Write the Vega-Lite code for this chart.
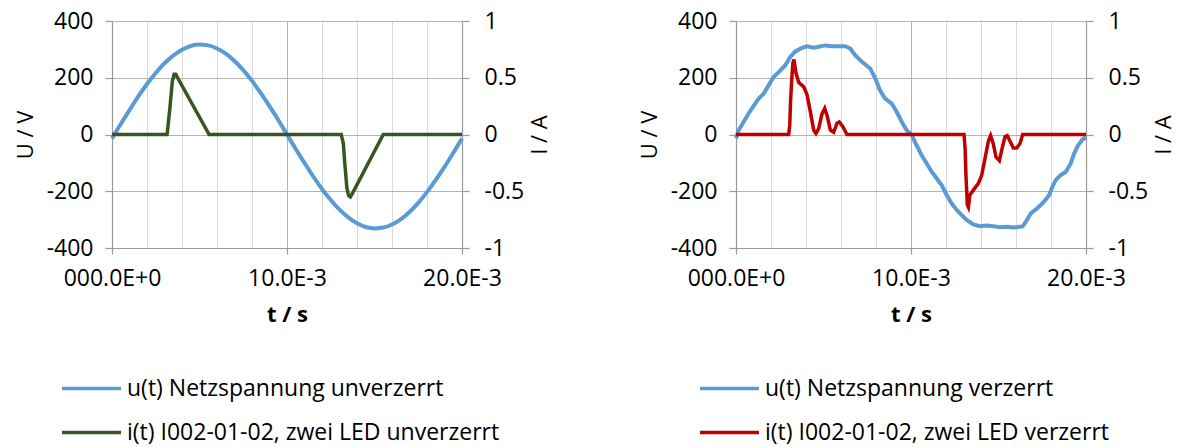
{
  "$schema": "https://vega.github.io/schema/vega-lite/v6.json",
  "padding": {"left": 14, "top": 10, "right": 0, "bottom": 0},
  "background": "white",
  "config": {
    "font": "Open Sans",
    "view": {"stroke": null},
    "axis": {
      "labelFont": "Open Sans", "titleFont": "Open Sans",
      "labelFontSize": 23, "titleFontSize": 22,
      "labelColor": "#000000", "titleColor": "#000000",
      "titleFontWeight": "normal",
      "domainColor": "#999999", "tickColor": "#999999",
      "gridColor": "#b4b4b4", "domainWidth": 1.2, "tickWidth": 1.2
    },
    "axisX": {"labelOverlap": false},
    "concat": {"spacing": 87}
  },
  "datasets": {
    "left_u": [
      {"t": 0, "v": -14}, {"t": 0.5, "v": 37}, {"t": 1, "v": 86}, {"t": 1.5, "v": 134}, {"t": 2, "v": 178},
      {"t": 2.5, "v": 217}, {"t": 3, "v": 251}, {"t": 3.5, "v": 278}, {"t": 4, "v": 299}, {"t": 4.5, "v": 312},
      {"t": 5, "v": 317}, {"t": 5.5, "v": 314}, {"t": 6, "v": 303}, {"t": 6.5, "v": 285}, {"t": 7, "v": 259},
      {"t": 7.5, "v": 227}, {"t": 8, "v": 189}, {"t": 8.5, "v": 146}, {"t": 9, "v": 100}, {"t": 9.5, "v": 51},
      {"t": 10, "v": 0}, {"t": 10.5, "v": -51}, {"t": 11, "v": -100}, {"t": 11.5, "v": -148}, {"t": 12, "v": -192},
      {"t": 12.5, "v": -231}, {"t": 13, "v": -265}, {"t": 13.5, "v": -292}, {"t": 14, "v": -313}, {"t": 14.5, "v": -326},
      {"t": 15, "v": -331}, {"t": 15.5, "v": -328}, {"t": 16, "v": -317}, {"t": 16.5, "v": -299}, {"t": 17, "v": -273},
      {"t": 17.5, "v": -241}, {"t": 18, "v": -203}, {"t": 18.5, "v": -160}, {"t": 19, "v": -114}, {"t": 19.5, "v": -65},
      {"t": 20, "v": -14}
    ],
    "left_i": [
      {"t": 0, "v": 0}, {"t": 3.15, "v": 0}, {"t": 3.3, "v": 0.22}, {"t": 3.45, "v": 0.47}, {"t": 3.55, "v": 0.53},
      {"t": 3.65, "v": 0.53}, {"t": 3.75, "v": 0.5}, {"t": 5.55, "v": 0}, {"t": 13.1, "v": 0}, {"t": 13.22, "v": -0.08},
      {"t": 13.3, "v": -0.25}, {"t": 13.42, "v": -0.47}, {"t": 13.52, "v": -0.54}, {"t": 13.62, "v": -0.55},
      {"t": 13.77, "v": -0.51}, {"t": 15.5, "v": 0}, {"t": 20, "v": 0}
    ],
    "right_u": [
      {"t": 0, "v": -14}, {"t": 0.15, "v": 15}, {"t": 0.44, "v": 45}, {"t": 0.72, "v": 74}, {"t": 1.01, "v": 101},
      {"t": 1.3, "v": 127}, {"t": 1.58, "v": 144}, {"t": 1.87, "v": 174}, {"t": 2.15, "v": 203}, {"t": 2.44, "v": 220},
      {"t": 2.82, "v": 244}, {"t": 3.1, "v": 273}, {"t": 3.39, "v": 293}, {"t": 3.77, "v": 305}, {"t": 4.06, "v": 311},
      {"t": 4.44, "v": 306}, {"t": 4.72, "v": 309}, {"t": 5.1, "v": 314}, {"t": 5.49, "v": 311}, {"t": 5.87, "v": 311},
      {"t": 6.25, "v": 311}, {"t": 6.53, "v": 303}, {"t": 6.82, "v": 279}, {"t": 7.2, "v": 256}, {"t": 7.68, "v": 232},
      {"t": 7.96, "v": 197}, {"t": 8.23, "v": 156}, {"t": 8.51, "v": 127}, {"t": 8.9, "v": 109}, {"t": 9.18, "v": 80},
      {"t": 9.47, "v": 45}, {"t": 9.75, "v": 15}, {"t": 10.04, "v": -2}, {"t": 10.32, "v": -38}, {"t": 10.61, "v": -73},
      {"t": 10.9, "v": -102}, {"t": 11.18, "v": -131}, {"t": 11.47, "v": -155}, {"t": 11.75, "v": -178}, {"t": 12.04, "v": -213},
      {"t": 12.32, "v": -243}, {"t": 12.61, "v": -266}, {"t": 12.9, "v": -284}, {"t": 13.18, "v": -301}, {"t": 13.56, "v": -317},
      {"t": 13.94, "v": -323}, {"t": 14.32, "v": -321}, {"t": 14.7, "v": -323}, {"t": 15.09, "v": -327}, {"t": 15.47, "v": -325},
      {"t": 15.85, "v": -328}, {"t": 16.23, "v": -325}, {"t": 16.37, "v": -324}, {"t": 16.56, "v": -308}, {"t": 16.84, "v": -278},
      {"t": 17.22, "v": -260}, {"t": 17.6, "v": -237}, {"t": 17.89, "v": -214}, {"t": 18.08, "v": -184}, {"t": 18.27, "v": -161},
      {"t": 18.55, "v": -143}, {"t": 18.84, "v": -132}, {"t": 19.13, "v": -102}, {"t": 19.32, "v": -67}, {"t": 19.55, "v": -38},
      {"t": 19.8, "v": -18}, {"t": 20, "v": -10}
    ],
    "right_i": [
      {"t": 0, "v": 0}, {"t": 3.01, "v": 0}, {"t": 3.07, "v": 0.08}, {"t": 3.12, "v": 0.3}, {"t": 3.18, "v": 0.47},
      {"t": 3.25, "v": 0.63}, {"t": 3.31, "v": 0.66}, {"t": 3.37, "v": 0.6}, {"t": 3.43, "v": 0.54}, {"t": 3.58, "v": 0.46},
      {"t": 3.87, "v": 0.42}, {"t": 4.06, "v": 0.35}, {"t": 4.25, "v": 0.2}, {"t": 4.44, "v": 0.04}, {"t": 4.57, "v": 0.01},
      {"t": 4.72, "v": 0.05}, {"t": 4.91, "v": 0.18}, {"t": 5.07, "v": 0.23}, {"t": 5.2, "v": 0.17}, {"t": 5.39, "v": 0.04},
      {"t": 5.58, "v": 0.02}, {"t": 5.77, "v": 0.1}, {"t": 5.9, "v": 0.11}, {"t": 6.1, "v": 0.07}, {"t": 6.34, "v": 0},
      {"t": 13.03, "v": 0}, {"t": 13.09, "v": -0.12}, {"t": 13.14, "v": -0.36}, {"t": 13.22, "v": -0.62}, {"t": 13.28, "v": -0.64},
      {"t": 13.37, "v": -0.53}, {"t": 13.56, "v": -0.49}, {"t": 13.85, "v": -0.43}, {"t": 14.04, "v": -0.36}, {"t": 14.23, "v": -0.21},
      {"t": 14.42, "v": -0.06}, {"t": 14.55, "v": -0.01}, {"t": 14.7, "v": -0.08}, {"t": 14.86, "v": -0.2}, {"t": 15.05, "v": -0.23},
      {"t": 15.18, "v": -0.14}, {"t": 15.37, "v": -0.02}, {"t": 15.5, "v": -0.01}, {"t": 15.66, "v": -0.06}, {"t": 15.85, "v": -0.12},
      {"t": 16.04, "v": -0.12}, {"t": 16.23, "v": -0.08}, {"t": 16.38, "v": 0}, {"t": 20, "v": 0}
    ]
  },
  "hconcat": [
    {
      "width": 350,
      "height": 227,
      "encoding": {
        "x": {
          "field": "t", "type": "quantitative", "title": "t / s",
          "scale": {"domain": [0, 20], "nice": false},
          "axis": {
            "values": [0, 2, 4, 6, 8, 10, 12, 14, 16, 18, 20],
            "labelExpr": "datum.value == 0 ? '000.0E+0' : datum.value == 10 ? '10.0E-3' : datum.value == 20 ? '20.0E-3' : ''",
            "labelFlush": false, "labelOverlap": false, "labelBound": false,
            "grid": true,
            "gridColor": {"condition": {"test": "datum.value == 10 || datum.value == 20", "value": "#b4b4b4"}, "value": "#d9d9d9"},
            "tickOpacity": {"condition": {"test": "datum.value == 0 || datum.value == 10 || datum.value == 20", "value": 1}, "value": 0},
            "tickSize": 6, "labelPadding": 13,
            "titleFontWeight": "bold", "titlePadding": 14
          }
        }
      },
      "layer": [
        {
          "data": {"name": "left_u"},
          "mark": {"type": "line", "strokeWidth": 4, "interpolate": "monotone"},
          "encoding": {
            "y": {
              "field": "v", "type": "quantitative", "title": "U / V",
              "scale": {"domain": [-400, 400], "nice": false},
              "axis": {"orient": "left", "values": [-400, -200, 0, 200, 400], "labelExpr": "'' + datum.value", "grid": true, "tickSize": 7, "labelPadding": 12, "titlePadding": 9}
            },
            "color": {
              "datum": "u(t) Netzspannung unverzerrt", "type": "nominal",
              "scale": {"domain": ["u(t) Netzspannung unverzerrt", "i(t) I002-01-02, zwei LED unverzerrt"], "range": ["#5b9bd5", "#375623"]},
              "legend": {
                "title": null, "orient": "none", "legendX": -52, "legendY": 336, "direction": "vertical",
                "symbolType": "stroke", "symbolSize": 3481, "symbolStrokeWidth": 3.5,
                "labelFontSize": 23, "labelFont": "Open Sans", "labelColor": "#000000", "labelLimit": 0, "labelOffset": 4,
                "rowPadding": -18, "padding": 0
              }
            }
          }
        },
        {
          "data": {"name": "left_i"},
          "mark": {"type": "line", "strokeWidth": 3.5},
          "encoding": {
            "y": {
              "field": "v", "type": "quantitative", "title": "I / A",
              "scale": {"domain": [-1, 1], "nice": false},
              "axis": {"orient": "right", "values": [-1, -0.5, 0, 0.5, 1], "labelExpr": "'' + datum.value", "grid": false, "tickSize": 7, "labelPadding": 15, "titlePadding": 28, "titleAngle": 270}
            },
            "color": {"datum": "i(t) I002-01-02, zwei LED unverzerrt", "type": "nominal"}
          }
        }
      ],
      "resolve": {"scale": {"y": "independent"}}
    },
    {
      "width": 350,
      "height": 227,
      "encoding": {
        "x": {
          "field": "t", "type": "quantitative", "title": "t / s",
          "scale": {"domain": [0, 20], "nice": false},
          "axis": {
            "values": [0, 2, 4, 6, 8, 10, 12, 14, 16, 18, 20],
            "labelExpr": "datum.value == 0 ? '000.0E+0' : datum.value == 10 ? '10.0E-3' : datum.value == 20 ? '20.0E-3' : ''",
            "labelFlush": false, "labelOverlap": false, "labelBound": false,
            "grid": true,
            "gridColor": {"condition": {"test": "datum.value == 10 || datum.value == 20", "value": "#b4b4b4"}, "value": "#d9d9d9"},
            "tickOpacity": {"condition": {"test": "datum.value == 0 || datum.value == 10 || datum.value == 20", "value": 1}, "value": 0},
            "tickSize": 6, "labelPadding": 13,
            "titleFontWeight": "bold", "titlePadding": 14
          }
        }
      },
      "layer": [
        {
          "data": {"name": "right_u"},
          "mark": {"type": "line", "strokeWidth": 4},
          "encoding": {
            "y": {
              "field": "v", "type": "quantitative", "title": "U / V",
              "scale": {"domain": [-400, 400], "nice": false},
              "axis": {"orient": "left", "values": [-400, -200, 0, 200, 400], "labelExpr": "'' + datum.value", "grid": true, "tickSize": 7, "labelPadding": 12, "titlePadding": 9}
            },
            "color": {
              "datum": "u(t) Netzspannung verzerrt", "type": "nominal",
              "scale": {"domain": ["u(t) Netzspannung verzerrt", "i(t) I002-01-02, zwei LED verzerrt"], "range": ["#5b9bd5", "#c00000"]},
              "legend": {
                "title": null, "orient": "none", "legendX": -38, "legendY": 336, "direction": "vertical",
                "symbolType": "stroke", "symbolSize": 3481, "symbolStrokeWidth": 3.5,
                "labelFontSize": 23, "labelFont": "Open Sans", "labelColor": "#000000", "labelLimit": 0, "labelOffset": 4,
                "rowPadding": -18, "padding": 0
              }
            }
          }
        },
        {
          "data": {"name": "right_i"},
          "mark": {"type": "line", "strokeWidth": 3.5},
          "encoding": {
            "y": {
              "field": "v", "type": "quantitative", "title": "I / A",
              "scale": {"domain": [-1, 1], "nice": false},
              "axis": {"orient": "right", "values": [-1, -0.5, 0, 0.5, 1], "labelExpr": "'' + datum.value", "grid": false, "tickSize": 7, "labelPadding": 15, "titlePadding": 28, "titleAngle": 270}
            },
            "color": {"datum": "i(t) I002-01-02, zwei LED verzerrt", "type": "nominal"}
          }
        }
      ],
      "resolve": {"scale": {"y": "independent"}}
    }
  ],
  "resolve": {"scale": {"color": "independent"}}
}
